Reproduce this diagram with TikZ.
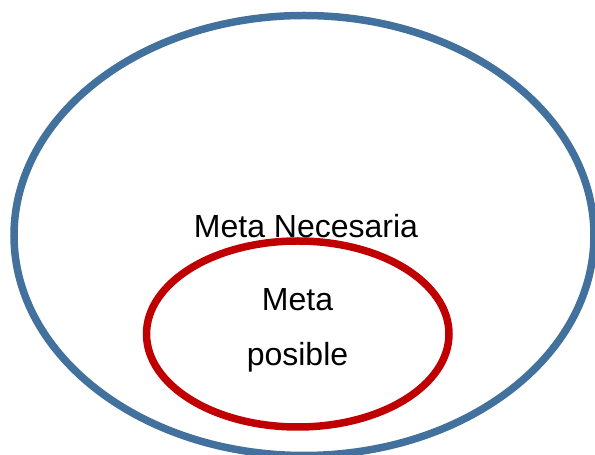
\documentclass[tikz,border=0pt]{standalone}
\usepackage{fontspec}
\setmainfont{Liberation Sans}
\usetikzlibrary{shapes.geometric}
\definecolor{setblue}{HTML}{41719C}
\definecolor{setred}{HTML}{C00000}
\begin{document}
\begin{tikzpicture}[x=1pt,y=1pt,
  setell/.style={ellipse, inner sep=0pt, outer sep=0pt, line width=7.5pt},
  lbl/.style={anchor=base, inner sep=0pt, font=\fontsize{32}{38}\selectfont}]
\useasboundingbox (0,0) rectangle (595,455);
\node[setell, draw=setblue, minimum width=580pt, minimum height=440pt] (outer) at (304,219.5) {};
\node[setell, draw=setred, minimum width=302.5pt, minimum height=186pt] (inner) at (297.75,121) {};
\node[lbl] (nec) at (306,217) {Meta Necesaria};
\node[lbl] (pos1) at (297.5,144) {Meta};
\node[lbl] (pos2) at (297.5,89) {posible};
\end{tikzpicture}
\end{document}
